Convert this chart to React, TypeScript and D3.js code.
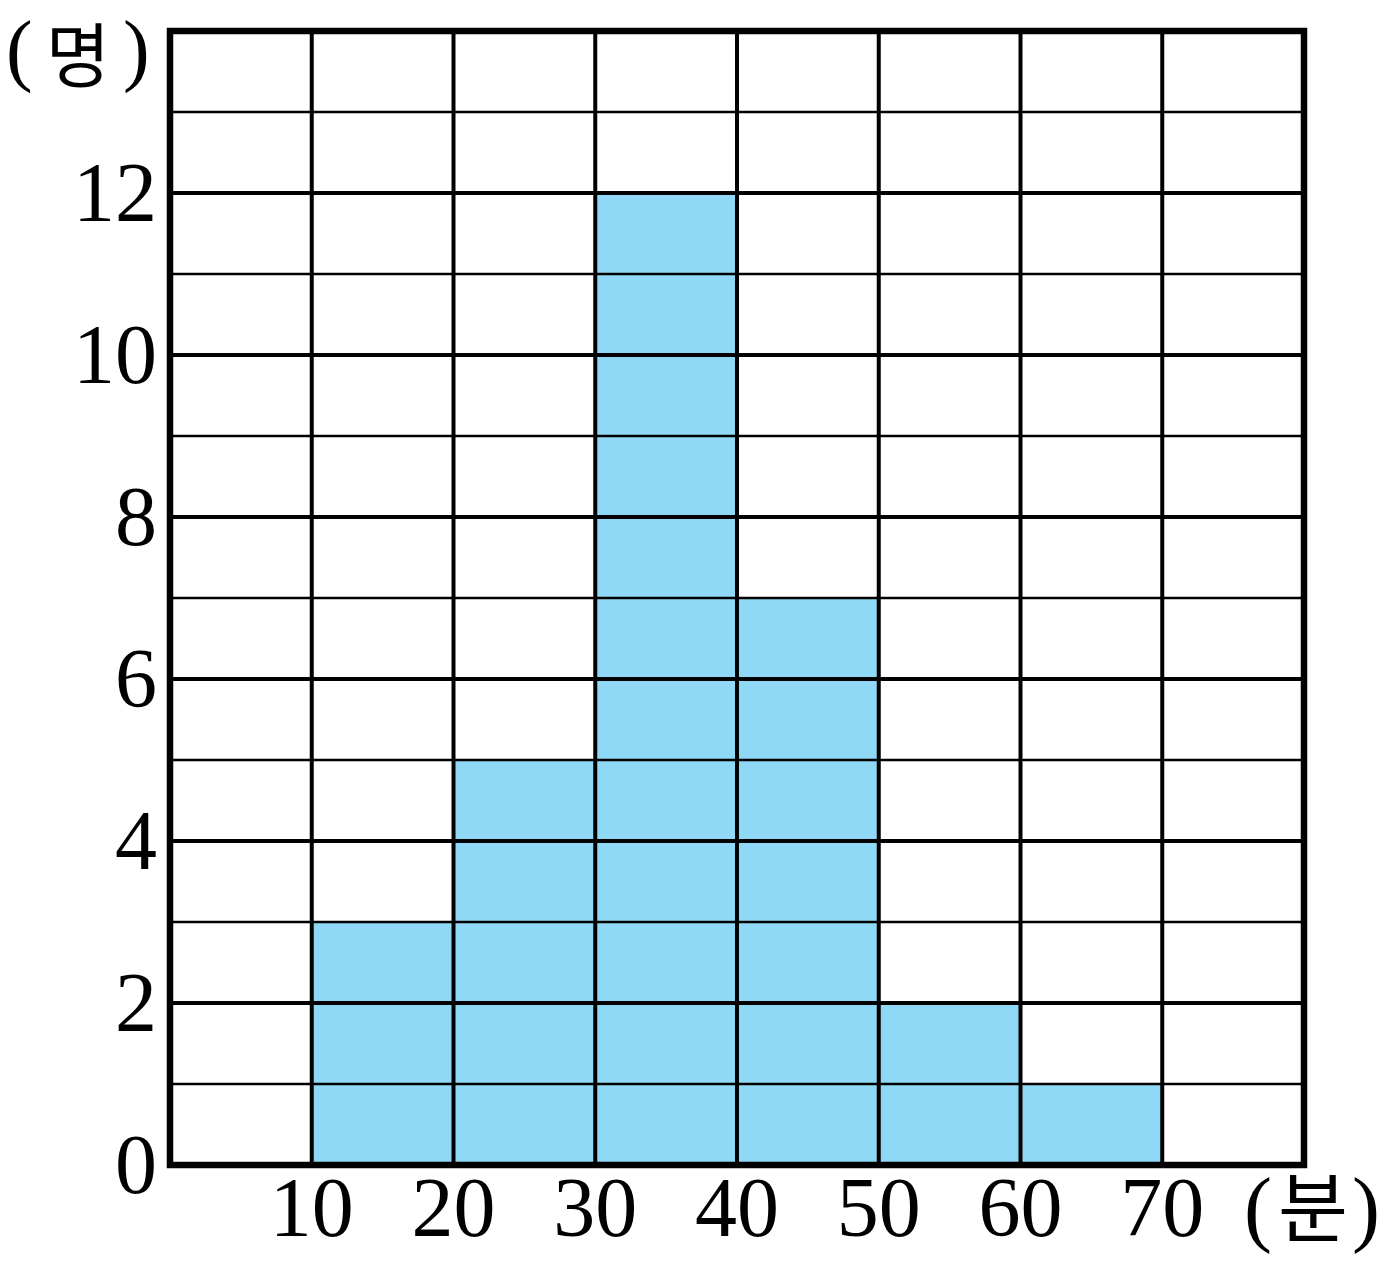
import React from "react";
import * as d3 from "d3";

const binStarts = [10, 20, 30, 40, 50, 60];
const counts = [3, 5, 12, 7, 2, 1];
const binWidth = 10;
const xTicks = [10, 20, 30, 40, 50, 60, 70];
const yTicks = [0, 2, 4, 6, 8, 10, 12];
const xUnit = "분";
const yUnit = "명";

const W = 1399;
const H = 1267;
const left = 170;
const right = 1304;
const top = 31;
const bottom = 1165;

const serif = "'Liberation Serif', 'DejaVu Serif', serif";
const cjk = "'Noto Sans CJK KR', 'Noto Sans', sans-serif";

export default function App() {
  const x = d3.scaleLinear().domain([0, 80]).range([left, right]);
  const y = d3.scaleLinear().domain([0, 14]).range([bottom, top]);
  const hLines = d3.range(0, 15);
  const vLines = d3.range(0, 90, 10);
  const fs = 84;
  const kfs = 76;
  return (
    <svg width={W} height={H} style={{ position: "absolute", left: 0, top: 0, background: "#fff" }}>
      {binStarts.map((b, i) => (
        <rect
          key={b}
          x={x(b)}
          y={y(counts[i])}
          width={x(b + binWidth) - x(b)}
          height={y(0) - y(counts[i])}
          fill="#8fd8f6"
        />
      ))}
      {hLines.map((v) => (
        <line
          key={"h" + v}
          x1={left}
          x2={right}
          y1={y(v)}
          y2={y(v)}
          stroke="#000"
          strokeWidth={v % 2 === 0 ? 4 : 2.5}
        />
      ))}
      {vLines.map((v) => (
        <line key={"v" + v} x1={x(v)} x2={x(v)} y1={top} y2={bottom} stroke="#000" strokeWidth={4} />
      ))}
      <rect x={left} y={top} width={right - left} height={bottom - top} fill="none" stroke="#000" strokeWidth={6.5} />
      {yTicks.map((t) => (
        <text
          key={"yt" + t}
          x={157}
          y={y(t)}
          dy="0.33em"
          textAnchor="end"
          fontFamily={serif}
          fontSize={fs}
          fill="#000"
        >
          {t}
        </text>
      ))}
      {xTicks.map((t) => (
        <text
          key={"xt" + t}
          x={x(t)}
          y={1236}
          textAnchor="middle"
          fontFamily={serif}
          fontSize={fs}
          fill="#000"
        >
          {t}
        </text>
      ))}
      <text x={6} y={76} fontFamily={serif} fontSize={80} fill="#000">(</text>
      <text x={78} y={82} textAnchor="middle" fontFamily={cjk} fontSize={70} fill="#000">{yUnit}</text>
      <text x={123} y={76} fontFamily={serif} fontSize={80} fill="#000">)</text>
      <text x={1244} y={1236} fontFamily={serif} fontSize={fs} fill="#000">
        (<tspan dx={6} fontFamily={cjk} fontSize={kfs}>{xUnit}</tspan><tspan dx={4}>)</tspan>
      </text>
    </svg>
  );
}
